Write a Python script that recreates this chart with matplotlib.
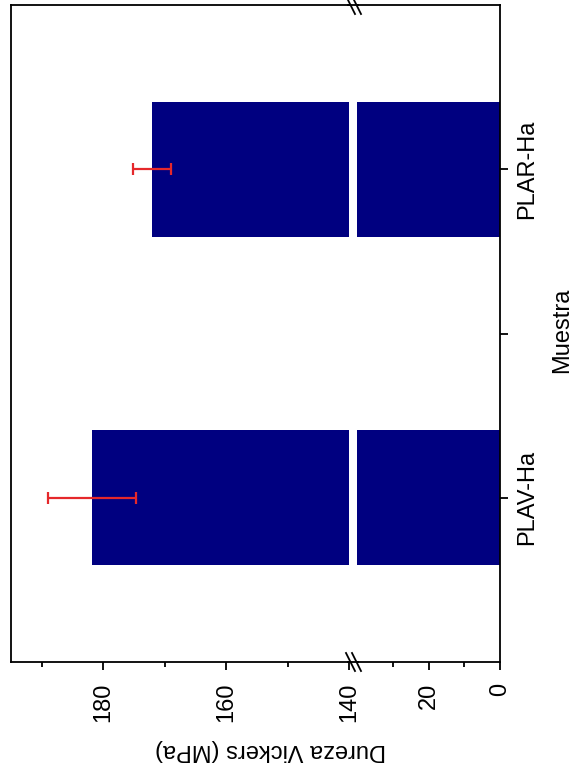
import matplotlib
matplotlib.use("Agg")
import matplotlib.pyplot as plt
from matplotlib.lines import Line2D

plt.rcParams['font.family'] = ['Liberation Sans', 'DejaVu Sans']

categories = ["PLAV-Ha", "PLAR-Ha"]
positions = [1, 2]
hardness = [181.8, 172.1]
errors = [7.1, 3.1]

W, H = 573, 767
fig = plt.figure(figsize=(W / 100, H / 100), dpi=100)

def fx(px):
    return px / W

def fy(py):
    return 1 - py / H

top_px, bot_px = 5, 662
ax1 = fig.add_axes([fx(11), fy(bot_px), fx(349 - 11), (bot_px - top_px) / H])
ax2 = fig.add_axes([fx(357), fy(bot_px), fx(500 - 357), (bot_px - top_px) / H])

bar_color = '#000080'
err_color = '#e5282b'
lw = 1.3

for ax in (ax1, ax2):
    ax.barh(positions, hardness, height=0.41, color=bar_color)
    ax.set_ylim(0.5, 2.5)
    for s in ax.spines.values():
        s.set_linewidth(lw)

ax1.errorbar(hardness, positions, xerr=errors, fmt='none', ecolor=err_color,
             elinewidth=1.6, capsize=4.5, capthick=1.6)

ax1.set_xlim(195, 140)
ax2.set_xlim(40, 0)

ax1.spines['right'].set_visible(False)
ax2.spines['left'].set_visible(False)

ax1.set_xticks([140, 160, 180])
ax1.set_xticks([150, 170, 190], minor=True)
ax1.set_xticklabels(['140', '160', '180'])
ax2.set_xticks([0, 20])
ax2.set_xticks([10, 30], minor=True)
ax2.set_xticklabels(['0', '20'])

for ax in (ax1, ax2):
    ax.tick_params(axis='x', which='major', direction='out', length=6, width=lw,
                   labelsize=17, labelrotation=90, pad=9)
    ax.tick_params(axis='x', which='minor', direction='out', length=3.5, width=lw)

ax1.set_yticks([])
ax1.tick_params(axis='y', which='both', left=False, right=False, labelleft=False)

ax2.yaxis.tick_right()
ax2.set_yticks(positions)
ax2.set_yticklabels(categories)
ax2.set_yticks([1.5], minor=True)
ax2.tick_params(axis='y', which='major', direction='out', length=5.5, width=lw,
                labelsize=17, labelrotation=90, pad=6)
ax2.tick_params(axis='y', which='minor', direction='out', length=5.5, width=lw)
ax2.tick_params(axis='y', which='both', left=False)
for lab in ax2.get_yticklabels():
    lab.set_verticalalignment('center')

# frame across the gap
for py in (top_px, bot_px):
    fig.add_artist(Line2D([fx(348), fx(358)], [fy(py), fy(py)], color='black',
                          lw=lw, transform=fig.transFigure))
    for x0 in (346, 352):
        fig.add_artist(Line2D([fx(x0), fx(x0 + 9)], [fy(py - 9), fy(py + 9)],
                              color='black', lw=lw, transform=fig.transFigure))

fig.text(fx(562), fy(330), 'Muestra', rotation=90, fontsize=17,
         ha='center', va='center')
fig.text(fx(270), fy(750), 'Dureza Vickers (MPa)', rotation=180, fontsize=17,
         ha='center', va='center')

fig.savefig('out.png', dpi=100)
